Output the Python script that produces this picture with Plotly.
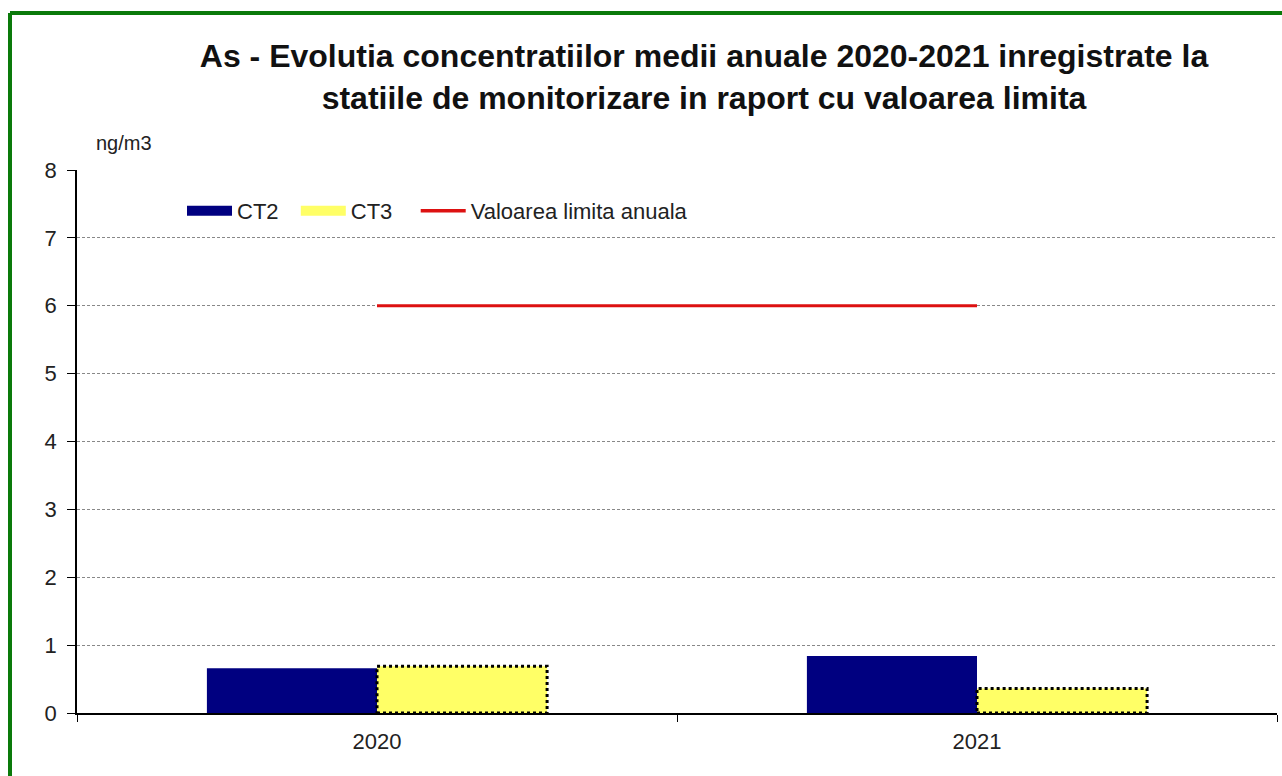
import plotly.graph_objects as go

categories = ["2020", "2021"]
ct2 = [0.66, 0.84]
ct3 = [0.69, 0.36]
limit = [6, 6]
yticks = [0, 1, 2, 3, 4, 5, 6, 7, 8]

bargap = 0.433
bw = (1 - bargap) / 2

NAVY = "#000080"
YELLOW = "#FFFF66"
RED = "#DD1111"
PAD = "\u00a0"

fig = go.Figure()
fig.add_trace(go.Bar(name="CT2", x=categories, y=ct2, marker=dict(color=NAVY, line=dict(width=0)),
                     showlegend=False))
fig.add_trace(go.Bar(name="CT3", x=categories, y=ct3,
                     marker=dict(color=YELLOW, line=dict(width=0)), showlegend=False))
fig.add_trace(go.Scatter(name="Valoarea limita anuala", x=categories, y=limit, mode="lines",
                         line=dict(color=RED, width=3), showlegend=False))

# legend proxies (wide rectangle symbols as in the original)
fig.add_trace(go.Scatter(name="CT2" + PAD * 2, x=[None], y=[None], mode="lines", line=dict(color=NAVY, width=11)))
fig.add_trace(go.Scatter(name="CT3" + PAD * 3, x=[None], y=[None], mode="lines", line=dict(color=YELLOW, width=11)))
fig.add_trace(go.Scatter(name="Valoarea limita anuala", x=[None], y=[None], mode="lines",
                         line=dict(color=RED, width=3.5)))

# dotted outline of CT3 bars
for i, v in enumerate(ct3):
    fig.add_shape(type="rect", xref="x", yref="y", x0=i, x1=i + bw, y0=0, y1=v,
                  line=dict(color="black", width=3, dash="dot"), fillcolor="rgba(0,0,0,0)", layer="above")

# green frame (left and top)
L, R, T, B = 77, 1277, 170, 713
def px(x): return (x - L) / (R - L)
def py(y): return (B - y) / (B - T)
fig.add_shape(type="line", xref="paper", yref="paper", x0=px(10), x1=px(10), y0=py(13), y1=py(776),
              line=dict(color="#0A7A0A", width=4), layer="above")
fig.add_shape(type="line", xref="paper", yref="paper", x0=px(10), x1=px(1282), y0=py(13), y1=py(13),
              line=dict(color="#0A7A0A", width=4), layer="above")

fig.add_annotation(text="ng/m3", xref="paper", yref="paper", x=px(124), y=py(143), showarrow=False,
                   font=dict(size=20, color="#222"), xanchor="center", yanchor="middle")

fig.update_layout(
    width=1282, height=776,
    paper_bgcolor="white", plot_bgcolor="white",
    margin=dict(l=L, r=1282 - R, t=T, b=776 - B, autoexpand=False),
    barmode="group", bargap=bargap, bargroupgap=0,
    font=dict(family="Liberation Sans, Arial, sans-serif", color="#222"),
    title=dict(text="<b>As - Evolutia concentratiilor medii anuale 2020-2021 inregistrate la<br>statiile de monitorizare in raport cu valoarea limita</b>",
               x=704 / 1282, xanchor="center", y=1 - 67 / 776, yanchor="middle",
               font=dict(size=32, color="#111")),
    legend=dict(orientation="h", x=px(182), y=py(211), xanchor="left", yanchor="middle",
                font=dict(size=22, color="#222"), bgcolor="rgba(0,0,0,0)", traceorder="normal",
                itemwidth=45, tracegroupgap=0),
    showlegend=True,
)
fig.update_yaxes(range=[0, 8], tickvals=yticks, showgrid=True, gridcolor="#888", griddash="3px,2px", gridwidth=1,
                 showline=True, linecolor="black", linewidth=1.5, ticks="outside", ticklen=8,
                 tickcolor="black", tickfont=dict(size=22, color="#222"), zeroline=False,
                 ticklabelstandoff=6)
fig.update_xaxes(type="category", showline=True, linecolor="black", linewidth=1.5, ticks="outside",
                 tickson="boundaries", ticklen=7, tickcolor="black", tickfont=dict(size=22, color="#222"),
                 showgrid=False, ticklabelstandoff=8)

fig.write_html("out.html")
